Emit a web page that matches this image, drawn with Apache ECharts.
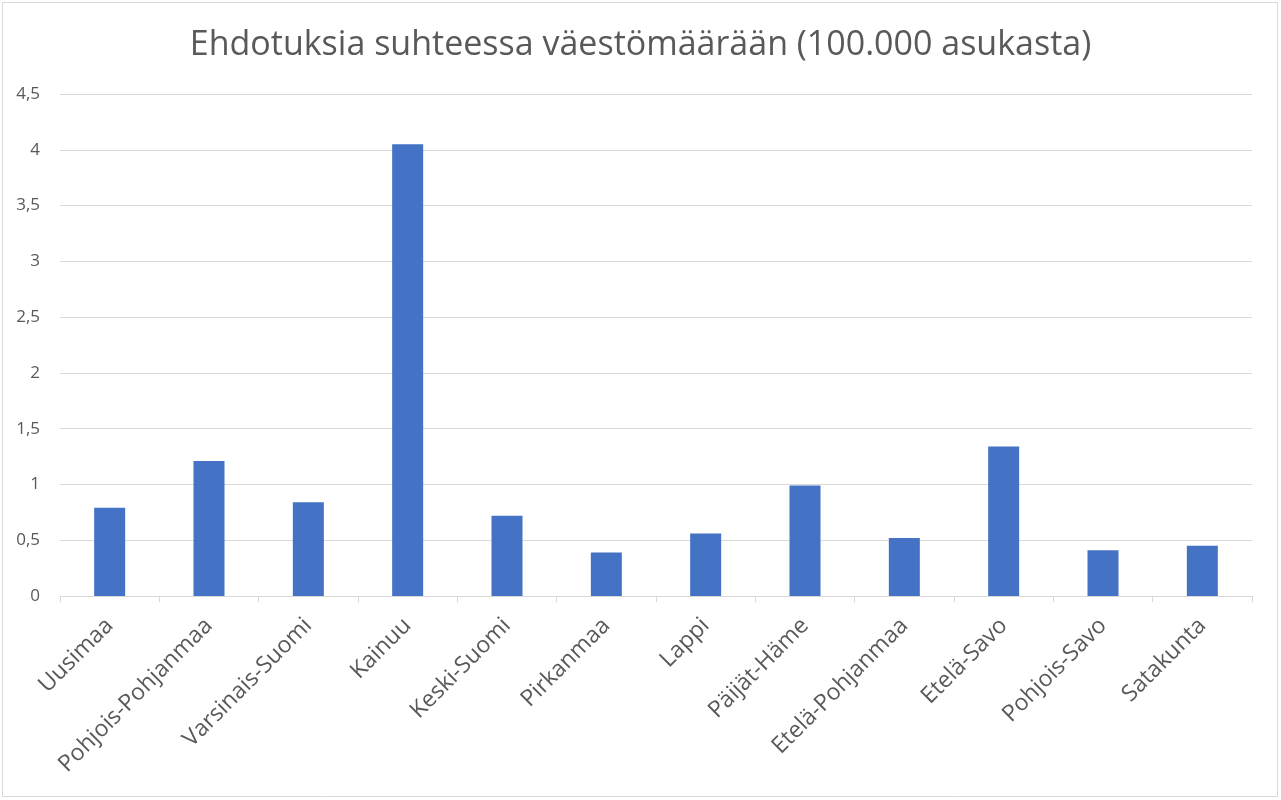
<!DOCTYPE html>
<html>
<head>
<meta charset="utf-8">
<script src="https://cdn.jsdelivr.net/npm/echarts@6/dist/echarts.min.js"></script>
<style>
html,body{margin:0;padding:0;background:#fff;}
#c{width:1281px;height:800px;}
</style>
</head>
<body>
<div id="c"></div>
<script>
const titleText = 'Ehdotuksia suhteessa väestömäärään (100.000 asukasta)';
const categories = ['Uusimaa','Pohjois-Pohjanmaa','Varsinais-Suomi','Kainuu','Keski-Suomi','Pirkanmaa','Lappi','Päijät-Häme','Etelä-Pohjanmaa','Etelä-Savo','Pohjois-Savo','Satakunta'];
const values = [0.79, 1.21, 0.84, 4.05, 0.72, 0.39, 0.56, 0.99, 0.52, 1.34, 0.41, 0.45];
const yTicks = [0, 0.5, 1, 1.5, 2, 2.5, 3, 3.5, 4, 4.5];

const chart = echarts.init(document.getElementById('c'), null, {renderer:'canvas'});
const font = '"Open Sans", "Noto Sans", sans-serif';
chart.setOption({
  backgroundColor: '#ffffff',
  animation: false,
  title: {
    text: titleText,
    left: 'center',
    top: 23,
    textStyle: {fontFamily: font, fontSize: 34, fontWeight: 'normal', color: '#595959'}
  },
  graphic: [{
    type: 'rect',
    shape: {x: 2.5, y: 2.5, width: 1275, height: 794},
    style: {fill: 'none', stroke: '#d9d9d9', lineWidth: 1},
    silent: true
  }],
  grid: {left: 60, right: 29, top: 94, bottom: 204},
  xAxis: {
    type: 'category',
    data: categories,
    boundaryGap: true,
    axisLine: {lineStyle: {color: '#d9d9d9', width: 1}},
    axisTick: {show: true, alignWithLabel: false, length: 6, lineStyle: {color: '#d9d9d9'}},
    axisLabel: {
      interval: 0,
      rotate: 45,
      margin: 26,
      fontFamily: font,
      fontSize: 23,
      color: '#595959'
    }
  },
  yAxis: {
    type: 'value',
    min: yTicks[0],
    max: yTicks[yTicks.length - 1],
    interval: 0.5,
    axisLine: {show: false},
    axisTick: {show: false},
    splitLine: {lineStyle: {color: '#d9d9d9', width: 1}},
    axisLabel: {
      fontFamily: font,
      fontSize: 17,
      color: '#595959',
      margin: 20,
      formatter: v => String(v).replace('.', ',')
    }
  },
  series: [{
    type: 'bar',
    data: values,
    barWidth: 31,
    itemStyle: {color: '#4472C4'}
  }]
});
</script>
</body>
</html>
